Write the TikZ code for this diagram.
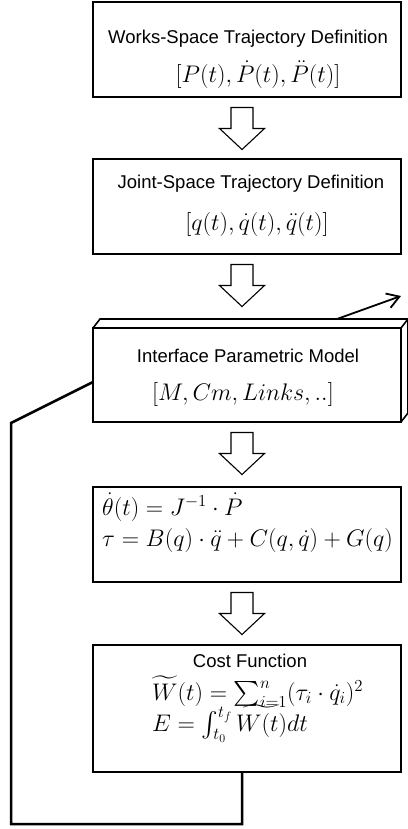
\RequirePackage{fix-cm}
\documentclass[tikz,border=0pt]{standalone}
\usepackage{amsmath}
\usepackage{exscale}
\usepackage{fontspec}
\newfontfamily\arialfont{Liberation Sans}
\usetikzlibrary{arrows.meta,calc}
\tikzset{
  blockarrow/.pic={\draw[blk] (-11,0) -- (11,0) -- (11,21) -- (22.5,21) -- (0,42) -- (-22.5,21) -- (-11,21) -- cycle;}
}
\begin{document}
\begin{tikzpicture}[x=1pt,y=-1pt,
  box/.style={draw, line width=1.6pt, minimum width=308pt, inner sep=0pt, outer sep=0pt},
  title/.style={font=\arialfont\fontsize{18.5}{22}\selectfont, anchor=base, inner sep=0pt},
  eq/.style={font=\fontsize{24}{28}\selectfont, inner sep=0pt},
  blk/.style={draw, line width=1.1pt, fill=white, line join=miter},
  fb/.style={line width=2.5pt, line join=miter},
  face/.style={line width=1.6pt, line join=miter}]
\useasboundingbox (0,0) rectangle (407,829);
% boxes
\node[box, minimum height=95pt] (b1) at (247,49.5) {};
\node[box, minimum height=95pt] (b2) at (247,206.5) {};
\node[box, minimum height=94pt] (b3) at (247,375) {};
\node[box, minimum height=95pt] (b4) at (247,534.5) {};
\node[box, minimum height=127pt] (b5) at (247,708.5) {};
% 3D faces of b3
\draw[face] (b3.north west) -- ++(7,-9) -- ++(308,0) -- (b3.north east);
\draw[face] ($(b3.north east)+(7,-9)$) -- ++(0,94) -- (b3.south east);
% block arrows
\pic at ($(b1.south)+(-5,10.5)$) {blockarrow};
\pic at ($(b2.south)+(-5,10.5)$) {blockarrow};
\pic at ($(b3.south)+(-5,10.5)$) {blockarrow};
\pic at ($(b4.south)+(-5,10.5)$) {blockarrow};
% outgoing arrow
\coordinate (outtip) at (401,296);
\draw[line width=1.8pt, -{Straight Barb[length=12pt,width=15pt]}] ($(b3.north)+(90,-9)$) -- (outtip);
% feedback
\coordinate (fb1) at (11,423);
\coordinate (fb2) at (11,824);
\coordinate (fb3) at (242,824);
\draw[fb] ($(b3.west)+(0,7)$) -- (fb1) -- (fb2) -- (fb3) -- ($(b5.south)+(-5,0)$);
% texts
\node[title] (t1) at (248,44) {Works-Space Trajectory Definition};
\node[eq, anchor=base] (m1) at (258,83) {$[P(t),\dot{P}(t),\ddot{P}(t)]$};
\node[title] (t2) at (251,189) {Joint-Space Trajectory Definition};
\node[eq, anchor=base] (m2) at (257,230) {$[q(t),\dot{q}(t),\ddot{q}(t)]$};
\node[title] (t3) at (248,362) {Interface Parametric Model};
\node[eq, anchor=base] (m3) at (243,400) {$[M,Cm,Links,..]$};
\node[eq, anchor=base west] (m4a) at (102,515) {$\dot{\theta}(t)=J^{-1}\cdot\dot{P}$};
\node[eq, anchor=base west] (m4b) at (102,546) {$\tau=B(q)\cdot\ddot{q}+C(q,\dot{q})+G(q)$};
\node[title] (t5) at (250,667) {Cost Function};
\node[eq, anchor=base west] (m5a) at (152,700) {$\widetilde{W}(t)=\sum_{i=1}^{n}(\tau_i\cdot\dot{q}_i)^2$};
\node[eq, anchor=base west] (m5b) at (152,731) {$E=\int_{t_0}^{t_f}\widetilde{W(t)}dt$};
\end{tikzpicture}
\end{document}
